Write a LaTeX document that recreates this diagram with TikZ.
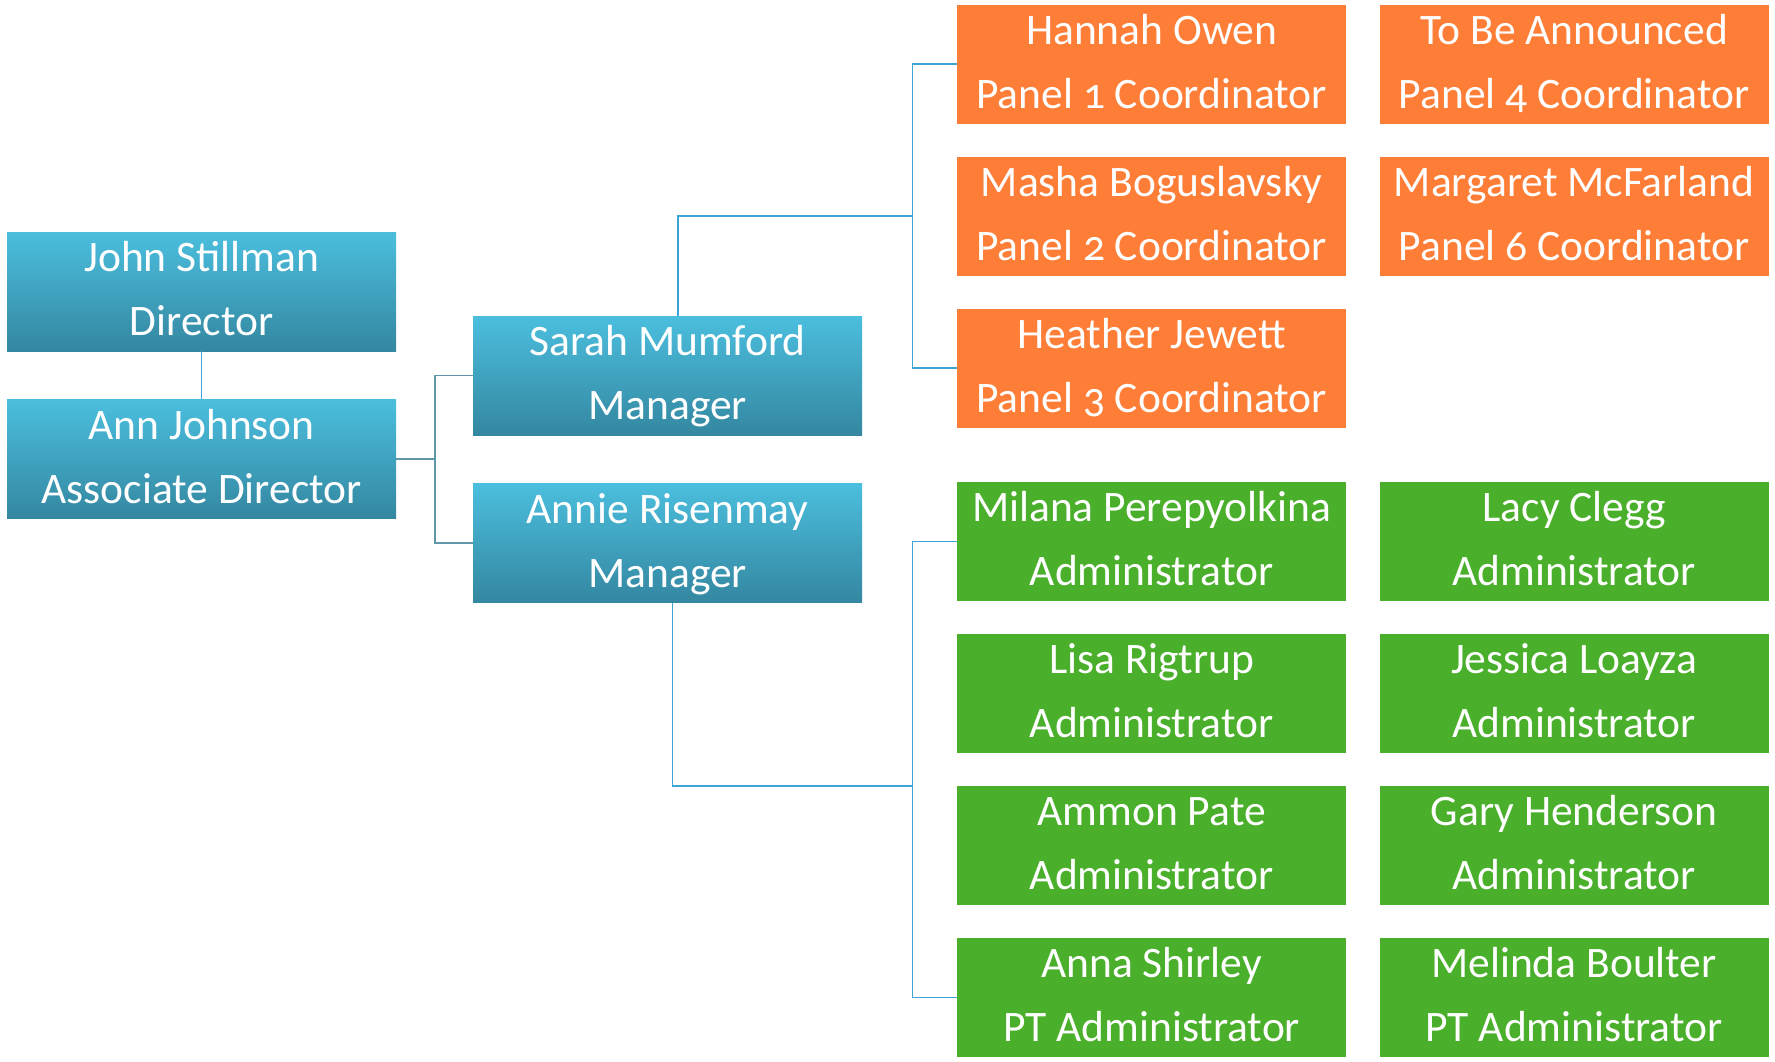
\documentclass[tikz,border=0pt]{standalone}
\usepackage{fontspec}
\setmainfont{Carlito}[Numbers=OldStyle]
\usepackage{tikz}
\usetikzlibrary{positioning}
\definecolor{leadtop}{RGB}{75,190,222}
\definecolor{leadbot}{RGB}{52,135,160}
\definecolor{panelorange}{RGB}{254,125,55}
\definecolor{admingreen}{RGB}{74,175,43}
\definecolor{linkblue}{RGB}{60,165,214}
\definecolor{linkgrey}{RGB}{95,150,170}
\newcommand{\orgfont}{\fontsize{43.5}{64}\selectfont}
\newcommand{\twoline}[2]{\rule{0pt}{34pt}#1\\#2\rule[-10pt]{0pt}{10pt}}
\tikzset{
  unitbox/.style={rectangle,inner sep=0pt,minimum width=389pt,minimum height=119pt,
    align=center,text=white,font=\orgfont},
  leadbox/.style={unitbox,top color=leadtop,bottom color=leadbot},
  panelbox/.style={unitbox,fill=panelorange},
  adminbox/.style={unitbox,fill=admingreen},
  link/.style={draw=linkblue,line width=1.5pt},
}

\begin{document}
\begin{tikzpicture}[x=1pt,y=1pt]
      \useasboundingbox (0,0) rectangle (1775,-1061);

      \node[leadbox,anchor=north west] (john) at (7,-232) {\twoline{John Stillman}{Director}};
      \node[leadbox,below=48pt of john] (ann) {\twoline{Ann Johnson}{Associate Director}};
      \node[leadbox,anchor=north west] (sarah) at (473,-316) {\twoline{Sarah Mumford}{Manager}};
      \node[leadbox,below=48pt of sarah] (annie) {\twoline{Annie Risenmay}{Manager}};

      \node[panelbox,anchor=north west] (hannah) at (957,-4.5) {\twoline{Hannah Owen}{Panel 1 Coordinator}};
      \node[panelbox,below=32.5pt of hannah] (masha) {\twoline{Masha Boguslavsky}{Panel 2 Coordinator}};
      \node[panelbox,below=32.5pt of masha] (heather) {\twoline{Heather Jewett}{Panel 3 Coordinator}};
      \node[panelbox,right=33pt of hannah] (tba) {\twoline{To Be Announced}{Panel 4 Coordinator}};
      \node[panelbox,right=33pt of masha] (margaret) {\twoline{Margaret McFarland}{Panel 6 Coordinator}};

      \node[adminbox,anchor=north west] (milana) at (957,-482) {\twoline{Milana Perepyolkina}{Administrator}};
      \node[adminbox,below=32.5pt of milana] (lisa) {\twoline{Lisa Rigtrup}{Administrator}};
      \node[adminbox,below=32.5pt of lisa] (ammon) {\twoline{Ammon Pate}{Administrator}};
      \node[adminbox,below=32.5pt of ammon] (anna) {\twoline{Anna Shirley}{PT Administrator}};
      \node[adminbox,right=33pt of milana] (lacy) {\twoline{Lacy Clegg}{Administrator}};
      \node[adminbox,right=33pt of lisa] (jessica) {\twoline{Jessica Loayza}{Administrator}};
      \node[adminbox,right=33pt of ammon] (gary) {\twoline{Gary Henderson}{Administrator}};
      \node[adminbox,right=33pt of anna] (melinda) {\twoline{Melinda Boulter}{PT Administrator}};

      \coordinate (annfork) at ([xshift=38.5pt]ann.east);
      \coordinate (panelfork) at ([xshift=-44.5pt]masha.west);
      \coordinate (adminfork) at ([xshift=-44.5pt]ammon.north west);

      \draw[link] (john) -- (ann);
      \draw[link,draw=linkgrey] (ann.east) -- (annfork);
      \draw[link,draw=linkgrey] (sarah.west) -| (annfork) |- (annie.west);
      \draw[link] ([xshift=10.5pt]sarah.north) |- (panelfork);
      \draw[link] (hannah.west) -| (panelfork) |- (heather.west);
      \draw[link] ([xshift=5pt]annie.south) |- (adminfork);
      \draw[link] (milana.west) -| (adminfork) |- (anna.west);
\end{tikzpicture}
\end{document}
